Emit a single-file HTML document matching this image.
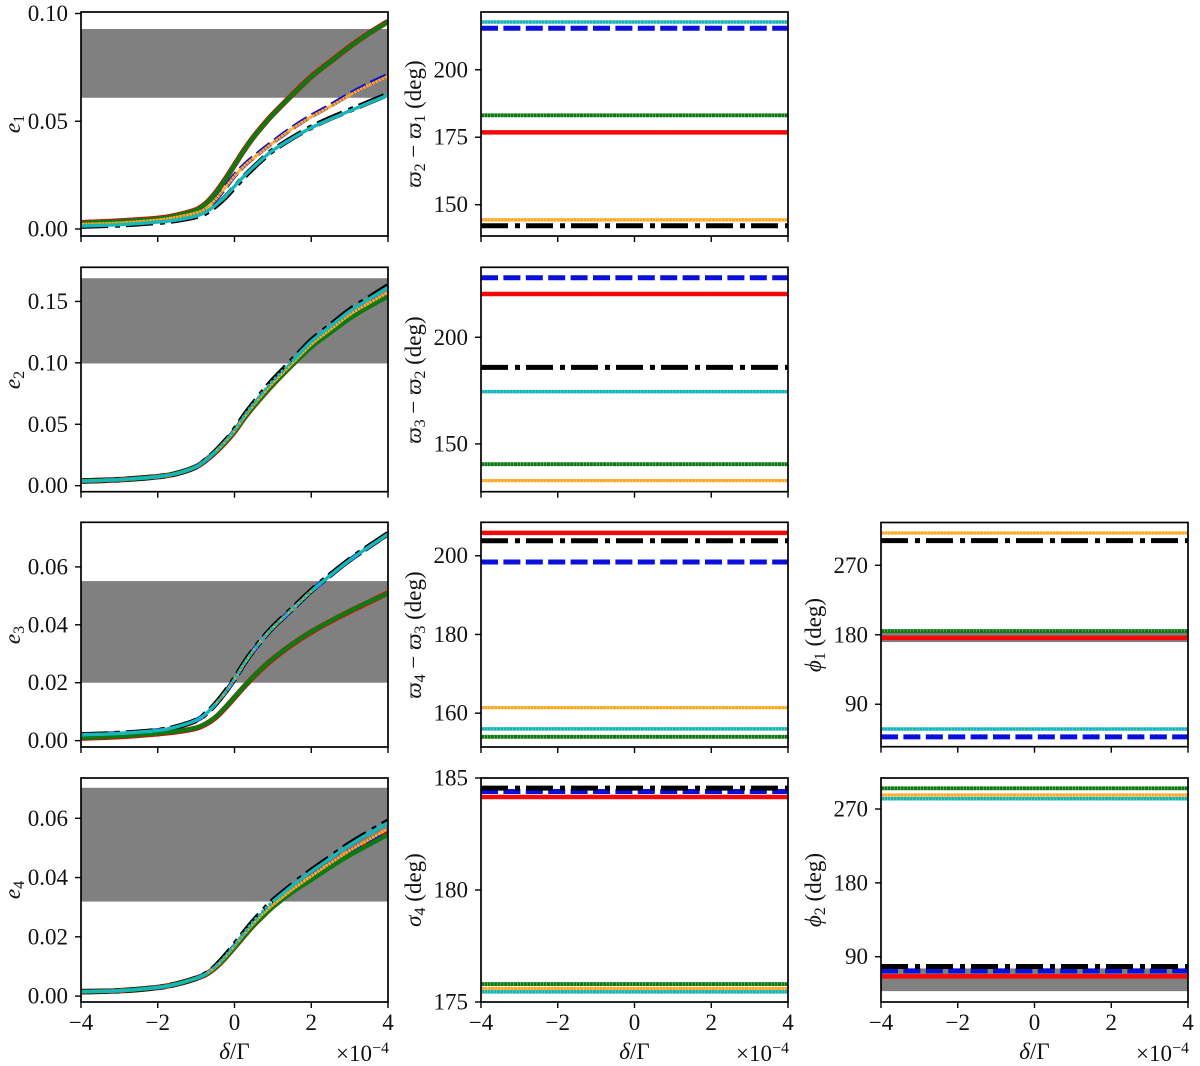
<!DOCTYPE html>
<html lang="en">
<head>
<meta charset="utf-8">
<title>Eccentricities and resonant angles versus delta over Gamma</title>
<style>
html,body{margin:0;padding:0;background:#fff;}
svg{display:block;font-family:"Liberation Serif","DejaVu Serif",serif;fill:#111;}
.ylab{font-size:23px;}
.sub{font-size:16px;}
.it{font-style:italic;}
</style>
</head>
<body>
<svg id="figure" xmlns="http://www.w3.org/2000/svg" width="1200" height="1066" viewBox="0 0 1200 1066">
  <rect width="1200" height="1066" fill="#fff"/>
  <g id="panels"></g>

  <text class="ylab" transform="translate(20,124) rotate(-90)" text-anchor="middle"><tspan class="it">e</tspan><tspan class="sub" dy="4">1</tspan></text>
  <text class="ylab" transform="translate(20,380) rotate(-90)" text-anchor="middle"><tspan class="it">e</tspan><tspan class="sub" dy="4">2</tspan></text>
  <text class="ylab" transform="translate(20,635) rotate(-90)" text-anchor="middle"><tspan class="it">e</tspan><tspan class="sub" dy="4">3</tspan></text>
  <text class="ylab" transform="translate(20,890) rotate(-90)" text-anchor="middle"><tspan class="it">e</tspan><tspan class="sub" dy="4">4</tspan></text>

  <text class="ylab" transform="translate(421,124) rotate(-90)" text-anchor="middle"><tspan class="it">ϖ</tspan><tspan class="sub" dy="4">2</tspan><tspan dy="-4"> − </tspan><tspan class="it">ϖ</tspan><tspan class="sub" dy="4">1</tspan><tspan dy="-4"> (deg)</tspan></text>
  <text class="ylab" transform="translate(421,380) rotate(-90)" text-anchor="middle"><tspan class="it">ϖ</tspan><tspan class="sub" dy="4">3</tspan><tspan dy="-4"> − </tspan><tspan class="it">ϖ</tspan><tspan class="sub" dy="4">2</tspan><tspan dy="-4"> (deg)</tspan></text>
  <text class="ylab" transform="translate(421,635) rotate(-90)" text-anchor="middle"><tspan class="it">ϖ</tspan><tspan class="sub" dy="4">4</tspan><tspan dy="-4"> − </tspan><tspan class="it">ϖ</tspan><tspan class="sub" dy="4">3</tspan><tspan dy="-4"> (deg)</tspan></text>
  <text class="ylab" transform="translate(421,890) rotate(-90)" text-anchor="middle"><tspan class="it">σ</tspan><tspan class="sub" dy="4">4</tspan><tspan dy="-4"> (deg)</tspan></text>

  <text class="ylab" transform="translate(821,635) rotate(-90)" text-anchor="middle"><tspan class="it">ϕ</tspan><tspan class="sub" dy="4">1</tspan><tspan dy="-4"> (deg)</tspan></text>
  <text class="ylab" transform="translate(821,890) rotate(-90)" text-anchor="middle"><tspan class="it">ϕ</tspan><tspan class="sub" dy="4">2</tspan><tspan dy="-4"> (deg)</tspan></text>

  <text class="ylab" x="234.5" y="1059" text-anchor="middle" font-size="24"><tspan class="it">δ</tspan>/Γ</text>
  <text class="ylab" x="634.5" y="1059" text-anchor="middle" font-size="24"><tspan class="it">δ</tspan>/Γ</text>
  <text class="ylab" x="1034.5" y="1059" text-anchor="middle" font-size="24"><tspan class="it">δ</tspan>/Γ</text>

  <text class="ylab" x="389" y="1061" text-anchor="end">×10<tspan class="sub" dy="-8">−4</tspan></text>
  <text class="ylab" x="789" y="1061" text-anchor="end">×10<tspan class="sub" dy="-8">−4</tspan></text>
  <text class="ylab" x="1189" y="1061" text-anchor="end">×10<tspan class="sub" dy="-8">−4</tspan></text>
</svg>

<script>
// ---------- data ----------
const deltaGrid = [-4,-3,-2,-1.5,-1,-0.75,-0.5,-0.25,0,0.25,0.5,0.75,1,1.5,2,2.5,3,3.5,4];
const lineRange = [-4,4];
const xTicks = [-4,-2,0,2,4];
const xTickLabels = ['−4','−2','0','2','4'];

const e1Red    = [.0029,.0037,.0049,.0064,.0089,.0118,.0166,.0228,.0297,.0366,.0428,.0482,.0532,.0622,.0707,.0777,.0846,.0908,.0963];
const e1Green  = [.0028,.0036,.0048,.0063,.0088,.0117,.0165,.0227,.0296,.0365,.0427,.0481,.0531,.0621,.0706,.0776,.0845,.0907,.0961];
const e1Blue   = [.0022,.0028,.0042,.0055,.0075,.0095,.0136,.0190,.0248,.0295,.0333,.0369,.0403,.0468,.0524,.0573,.0625,.0672,.0714];
const e1Black  = [.0013,.0019,.0031,.0041,.0058,.0075,.0106,.0145,.0194,.0242,.0286,.0327,.0365,.0422,.0472,.0514,.0551,.0588,.0625];
const e1Orange = [.0022,.0028,.0042,.0055,.0075,.0095,.0136,.0190,.0245,.0292,.0330,.0365,.0400,.0465,.0520,.0569,.0621,.0667,.0709];
const e1Cyan   = [.0014,.0020,.0032,.0042,.0060,.0078,.0110,.0149,.0198,.0245,.0288,.0328,.0365,.0420,.0470,.0510,.0548,.0585,.0621];

const e2Red    = [.0038,.0049,.0073,.0100,.0154,.0206,.0272,.0350,.0440,.0550,.0648,.0738,.0825,.0985,.1135,.1255,.1370,.1465,.1555];
const e2Green  = [.0038,.0049,.0073,.0100,.0154,.0206,.0272,.0350,.0440,.0548,.0646,.0735,.0822,.0980,.1128,.1245,.1360,.1455,.1540];
const e2Blue   = [.0038,.0049,.0073,.0100,.0154,.0207,.0274,.0353,.0445,.0556,.0654,.0745,.0832,.0990,.1145,.1265,.1385,.1480,.1565];
const e2Black  = [.0038,.0049,.0073,.0100,.0154,.0209,.0278,.0360,.0456,.0570,.0672,.0768,.0860,.1020,.1182,.1306,.1430,.1528,.1628];
const e2Orange = [.0038,.0049,.0073,.0100,.0154,.0207,.0275,.0355,.0447,.0558,.0658,.0750,.0838,.0995,.1150,.1272,.1392,.1486,.1575];
const e2Cyan   = [.0038,.0049,.0073,.0100,.0154,.0208,.0276,.0357,.0452,.0566,.0668,.0762,.0853,.1012,.1174,.1298,.1420,.1518,.1615];

const e3Red    = [.0009,.0014,.0024,.0031,.0043,.0057,.0079,.0112,.0149,.0186,.0221,.0253,.0282,.0332,.0375,.0412,.0446,.0478,.0510];
const e3Green  = [.0010,.0015,.0025,.0032,.0044,.0058,.0080,.0113,.0150,.0187,.0222,.0254,.0283,.0333,.0376,.0413,.0447,.0479,.0508];
const e3Blue   = [.0020,.0025,.0035,.0048,.0070,.0092,.0125,.0165,.0212,.0265,.0312,.0353,.0390,.0453,.0516,.0571,.0623,.0669,.0713];
const e3Black  = [.0020,.0025,.0035,.0048,.0070,.0093,.0126,.0167,.0214,.0267,.0314,.0355,.0392,.0455,.0518,.0573,.0625,.0671,.0715];
const e3Orange = [.0020,.0025,.0035,.0048,.0070,.0092,.0125,.0165,.0212,.0265,.0312,.0353,.0390,.0453,.0516,.0571,.0623,.0669,.0713];
const e3Cyan   = [.0020,.0025,.0035,.0048,.0070,.0092,.0125,.0165,.0212,.0265,.0312,.0353,.0390,.0453,.0516,.0571,.0623,.0669,.0713];

const e4Red    = [.0015,.0018,.0029,.0041,.0060,.0073,.0096,.0128,.0165,.0203,.0240,.0272,.0303,.0353,.0396,.0440,.0481,.0516,.0552];
const e4Green  = [.0015,.0018,.0029,.0041,.0060,.0073,.0096,.0127,.0164,.0202,.0238,.0270,.0300,.0350,.0392,.0435,.0475,.0510,.0545];
const e4Blue   = [.0015,.0018,.0029,.0041,.0060,.0074,.0098,.0131,.0169,.0208,.0245,.0277,.0306,.0357,.0402,.0446,.0488,.0524,.0562];
const e4Black  = [.0015,.0018,.0029,.0041,.0060,.0075,.0100,.0135,.0174,.0215,.0254,.0289,.0322,.0375,.0424,.0469,.0514,.0553,.0590];
const e4Orange = [.0015,.0018,.0029,.0041,.0060,.0074,.0098,.0131,.0169,.0209,.0246,.0279,.0308,.0359,.0405,.0449,.0491,.0528,.0565];
const e4Cyan   = [.0015,.0018,.0029,.0041,.0060,.0074,.0099,.0133,.0172,.0213,.0252,.0287,.0319,.0372,.0420,.0465,.0510,.0549,.0585];

const e1Band = [.0609,.0928];
const e2Band = [.0995,.1689];
const e3Band = [.0200,.0551];
const e4Band = [.0319,.0703];
const phi1Band = [170.5,184];
const phi2Band = [48,75.7];

// constant angle levels: red, blue, black, green, orange, cyan
const varpi21Levels = [176.8,215.4,142.2,183.1,144.4,217.7];
const varpi32Levels = [220.3,227.9,185.9,140.5,132.8,174.5];
const varpi43Levels = [205.8,198.4,203.8,154.0,161.4,156.0];
const sigma4Levels  = [184.15,184.4,184.55,175.8,175.6,175.45];
const phi1Levels    = [176,47.7,302,184.8,311.8,58];
const phi2Levels    = [66,72.8,78,295.2,287,282.5];

const e1Ticks = [0,.05,.10];
const e1TickLabels = ['0.00','0.05','0.10'];
const e2Ticks = [0,.05,.10,.15];
const e2TickLabels = ['0.00','0.05','0.10','0.15'];
const e3Ticks = [0,.02,.04,.06];
const e3TickLabels = ['0.00','0.02','0.04','0.06'];
const e4Ticks = [0,.02,.04,.06];
const e4TickLabels = ['0.00','0.02','0.04','0.06'];
const varpi21Ticks = [150,175,200];
const varpi21TickLabels = ['150','175','200'];
const varpi32Ticks = [150,200];
const varpi32TickLabels = ['150','200'];
const varpi43Ticks = [160,180,200];
const varpi43TickLabels = ['160','180','200'];
const sigma4Ticks = [175,180,185];
const sigma4TickLabels = ['175','180','185'];
const phiTicks = [90,180,270];
const phiTickLabels = ['90','180','270'];

const seriesNames = ['red','blue','black','green','orange','cyan'];

// ---------- drawing ----------
const NS = 'http://www.w3.org/2000/svg';
const root = document.getElementById('panels');

const curveStyle = {
  red:{stroke:'#f00000',w:5.6},
  blue:{stroke:'#0a0fdc',w:4.8,dash:'17 5.4'},
  black:{stroke:'#000',w:5.4,dash:'27 7 5 6'},
  green:{stroke:'#0b7a12',w:4.4},
  orange:{stroke:'#ffa722',w:3,dash:'3 .4'},
  cyan:{stroke:'#14b8bc',w:3.4}
};
const lineStyle = {
  red:{stroke:'#f50808',w:4.5},
  blue:{stroke:'#0a0fdc',w:5,dash:'17 5.4'},
  black:{stroke:'#000',w:5,dash:'27 7 5 6'},
  green:{stroke:'#0b7a12',w:3.9,dash:'3 .3'},
  orange:{stroke:'#ffa722',w:3.3,dash:'3 .3'},
  cyan:{stroke:'#14b5b8',w:3.5,dash:'3 .2'}
};

function smoothPath(pts){
  let d = 'M' + pts[0][0].toFixed(2) + ' ' + pts[0][1].toFixed(2);
  for(let i=0;i<pts.length-1;i++){
    const p0 = pts[Math.max(i-1,0)], p1 = pts[i], p2 = pts[i+1], p3 = pts[Math.min(i+2,pts.length-1)];
    const c1x = p1[0]+(p2[0]-p0[0])/6, c1y = p1[1]+(p2[1]-p0[1])/6;
    const c2x = p2[0]-(p3[0]-p1[0])/6, c2y = p2[1]-(p3[1]-p1[1])/6;
    d += 'C'+c1x.toFixed(2)+' '+c1y.toFixed(2)+' '+c2x.toFixed(2)+' '+c2y.toFixed(2)+' '+p2[0].toFixed(2)+' '+p2[1].toFixed(2);
  }
  return d;
}

function addPath(parent, d, st, seriesName){
  const el = document.createElementNS(NS,'path');
  
  
  el.setAttribute('d', d);
  el.setAttribute('fill', 'none');
  el.setAttribute('stroke', st.stroke);
  el.setAttribute('stroke-width', st.w);
  if(st.dash) el.setAttribute('stroke-dasharray', st.dash);
  if(st.cap) el.setAttribute('stroke-linecap', st.cap);
  parent.appendChild(el);
}

function drawPanel(p){
  const g = document.createElementNS(NS,'g');
  
  
  root.appendChild(g);

  const xs = v => p.left + (v-(-4))/8*(p.right-p.left);
  const ys = v => p.bottom - (v-p.ymin)/(p.ymax-p.ymin)*(p.bottom-p.top);

  const clip = document.createElementNS(NS,'clipPath');
  clip.setAttribute('id','clip-'+p.id);
  const cr = document.createElementNS(NS,'rect');
  cr.setAttribute('x',p.left); cr.setAttribute('y',p.top);
  cr.setAttribute('width',p.right-p.left); cr.setAttribute('height',p.bottom-p.top);
  clip.appendChild(cr); g.appendChild(clip);

  const plot = document.createElementNS(NS,'g');
  plot.setAttribute('clip-path','url(#clip-'+p.id+')');
  
  
  g.appendChild(plot);

  if(p.band){
    const b = document.createElementNS(NS,'rect');
    
    
    b.setAttribute('x',p.left);
    b.setAttribute('width',p.right-p.left);
    b.setAttribute('y',ys(p.band[1]));
    b.setAttribute('height',ys(p.band[0])-ys(p.band[1]));
    b.setAttribute('fill','#808080');
    plot.appendChild(b);
  }

  if(p.curves){
    p.curves.forEach((vals,k)=>{
      const name = seriesNames[k];
      const st = curveStyle[name];
      const pts = deltaGrid.map((x,i)=>[xs(x),ys(vals[i])]);
      if(name==='cyan' && p.dots){
        const iA = deltaGrid.indexOf(p.dots[0]), iB = deltaGrid.indexOf(p.dots[1]);
        addPath(plot, smoothPath(pts.slice(0,iA+1)), st, name);
        addPath(plot, smoothPath(pts.slice(iB)), st, name);
        addPath(plot, smoothPath(pts.slice(iA,iB+1)), {stroke:st.stroke,w:3.6,dash:'0.1 4.9',cap:'round'}, name);
      } else {
        addPath(plot, smoothPath(pts), st, name);
      }
    });
  }
  if(p.levels){
    p.levels.forEach((v,k)=>{
      const name = seriesNames[k];
      const d = 'M'+xs(lineRange[0])+' '+ys(v).toFixed(2)+'L'+xs(lineRange[1])+' '+ys(v).toFixed(2);
      addPath(plot, d, lineStyle[name], name);
    });
  }

  const frame = document.createElementNS(NS,'rect');
  
  
  frame.setAttribute('x',p.left); frame.setAttribute('y',p.top);
  frame.setAttribute('width',p.right-p.left); frame.setAttribute('height',p.bottom-p.top);
  frame.setAttribute('fill','none'); frame.setAttribute('stroke','#000'); frame.setAttribute('stroke-width','1.7');
  g.appendChild(frame);

  xTicks.forEach((t,i)=>{
    const x = xs(t);
    const l = document.createElementNS(NS,'line');
    
    
    l.setAttribute('x1',x); l.setAttribute('x2',x);
    l.setAttribute('y1',p.bottom); l.setAttribute('y2',p.bottom+6);
    l.setAttribute('stroke','#000'); l.setAttribute('stroke-width','1.4');
    g.appendChild(l);
    if(p.showX){
      const tx = document.createElementNS(NS,'text');
      
      
      tx.setAttribute('x',x); tx.setAttribute('y',p.bottom+28);
      tx.setAttribute('text-anchor','middle'); tx.setAttribute('font-size','23');
      tx.textContent = xTickLabels[i];
      g.appendChild(tx);
    }
  });

  p.ticks.forEach((t,i)=>{
    const y = ys(t);
    const l = document.createElementNS(NS,'line');
    
    
    l.setAttribute('x1',p.left-6); l.setAttribute('x2',p.left);
    l.setAttribute('y1',y); l.setAttribute('y2',y);
    l.setAttribute('stroke','#000'); l.setAttribute('stroke-width','1.4');
    g.appendChild(l);
    const tx = document.createElementNS(NS,'text');
    
    
    tx.setAttribute('x',p.left-13); tx.setAttribute('y',y+7.5);
    tx.setAttribute('text-anchor','end'); tx.setAttribute('font-size','23');
    tx.textContent = p.tickLabels[i];
    g.appendChild(tx);
  });
}

const colL=[81,388], colM=[481,788], colR=[881,1188];
drawPanel({id:'e1',left:colL[0],right:colL[1],top:12,bottom:236,ymin:-.00325,ymax:.1007,band:e1Band,
  curves:[e1Red,e1Blue,e1Black,e1Green,e1Orange,e1Cyan],ticks:e1Ticks,tickLabels:e1TickLabels});
drawPanel({id:'e2',left:colL[0],right:colL[1],top:267.3,bottom:491.7,ymin:-.0049,ymax:.1778,band:e2Band,
  curves:[e2Red,e2Blue,e2Black,e2Green,e2Orange,e2Cyan],dots:[-0.5,1.5],ticks:e2Ticks,tickLabels:e2TickLabels});
drawPanel({id:'e3',left:colL[0],right:colL[1],top:522.3,bottom:747,ymin:-.0022,ymax:.0754,band:e3Band,
  curves:[e3Red,e3Blue,e3Black,e3Green,e3Orange,e3Cyan],dots:[-0.5,2],ticks:e3Ticks,tickLabels:e3TickLabels});
drawPanel({id:'e4',left:colL[0],right:colL[1],top:778,bottom:1002,ymin:-.002,ymax:.0736,band:e4Band,
  curves:[e4Red,e4Blue,e4Black,e4Green,e4Orange,e4Cyan],dots:[-0.75,1],ticks:e4Ticks,tickLabels:e4TickLabels,showX:true});

drawPanel({id:'varpi21',left:colM[0],right:colM[1],top:12,bottom:236,ymin:138.4,ymax:221.4,
  levels:varpi21Levels,ticks:varpi21Ticks,tickLabels:varpi21TickLabels});
drawPanel({id:'varpi32',left:colM[0],right:colM[1],top:267.3,bottom:491.7,ymin:127.6,ymax:232.8,
  levels:varpi32Levels,ticks:varpi32Ticks,tickLabels:varpi32TickLabels});
drawPanel({id:'varpi43',left:colM[0],right:colM[1],top:522.3,bottom:747,ymin:151.4,ymax:208.5,
  levels:varpi43Levels,ticks:varpi43Ticks,tickLabels:varpi43TickLabels});
drawPanel({id:'sigma4',left:colM[0],right:colM[1],top:778,bottom:1002,ymin:175,ymax:185,
  levels:sigma4Levels,ticks:sigma4Ticks,tickLabels:sigma4TickLabels,showX:true});

drawPanel({id:'phi1',left:colR[0],right:colR[1],top:522.5,bottom:746.7,ymin:35,ymax:325.4,band:phi1Band,
  levels:phi1Levels,ticks:phiTicks,tickLabels:phiTickLabels});
drawPanel({id:'phi2',left:colR[0],right:colR[1],top:778,bottom:1002,ymin:34.8,ymax:307.8,band:phi2Band,
  levels:phi2Levels,ticks:phiTicks,tickLabels:phiTickLabels,showX:true});
</script>
</body>
</html>
